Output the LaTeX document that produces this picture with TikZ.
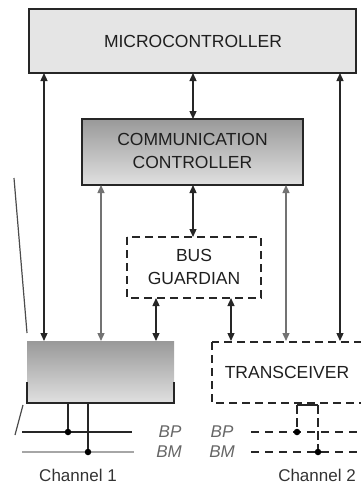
\documentclass[tikz,border=0pt]{standalone}
\usepackage{fontspec}
\setmainfont{Liberation Sans}
\usetikzlibrary{arrows.meta}
\begin{document}
\begin{tikzpicture}[x=1pt,y=-1pt,
  lbl/.style={font=\fontsize{17.5}{23}\selectfont, text=black!88, align=center, inner sep=0pt},
  buslbl/.style={font=\fontsize{17}{20}\selectfont\itshape, text=black!60, inner sep=0pt},
  chlbl/.style={font=\fontsize{17}{20}\selectfont, text=black!80, inner sep=0pt},
  solidbox/.style={draw=black!85, line width=1.6pt},
  dashbox/.style={draw=black!85, line width=1.6pt, dash pattern=on 8pt off 5pt},
  link/.style={draw=black!85, line width=1.3pt, {Triangle[length=8pt,width=7pt]}-{Triangle[length=8pt,width=7pt]}},
  greylink/.style={link, draw=black!55},
  bus/.style={line width=1.4pt},
  dot/.style={circle, fill=black, inner sep=0pt, minimum size=6.5pt}]
\useasboundingbox (0,0) rectangle (360,485);

% main blocks
\path[solidbox, fill=black!10] (29,9) rectangle (356,73);
\node[lbl] (mc) at (193,41) {MICROCONTROLLER};

\path[solidbox, top color=black!40, bottom color=black!12] (82,119) rectangle (303,185);
\node[lbl] (cc) at (192.5,151) {COMMUNICATION\\CONTROLLER};

\path[dashbox] (127,237) rectangle (261,298);
\node[lbl] (bg) at (194,267) {BUS\\GUARDIAN};

% channel 1 interface block
\fill[top color=black!40, bottom color=black!12] (27,341) rectangle (174,403);
\draw[black!85, line width=1.6pt] (27,382) -- (27,403) -- (174,403) -- (174,382);

% transceiver
\path[dashbox] (212,342) -- (212,403) -- (362,403);
\draw[dashbox] (362,342) -- (212,342);
\node[lbl] (tr) at (287,372) {TRANSCEIVER};

% connectors
\coordinate (a1) at (44,73);   \coordinate (a2) at (44,341);
\coordinate (b1) at (193,73);  \coordinate (b2) at (193,119);
\coordinate (c1) at (101,185); \coordinate (c2) at (101,341);
\coordinate (d1) at (193,185); \coordinate (d2) at (193,237);
\coordinate (e1) at (286,185); \coordinate (e2) at (286,341);
\coordinate (f1) at (156,298); \coordinate (f2) at (156,341);
\coordinate (g1) at (231,298); \coordinate (g2) at (231,341);
\coordinate (h1) at (340,73);  \coordinate (h2) at (340,341);
\draw[link] (a1) -- (a2);
\draw[link] (b1) -- (b2);
\draw[greylink] (c1) -- (c2);
\draw[link] (d1) -- (d2);
\draw[greylink] (e1) -- (e2);
\draw[link] (f1) -- (f2);
\draw[link] (g1) -- (g2);
\draw[link] (h1) -- (h2);

% channel 1 bus
\coordinate (bp1l) at (22,432);  \coordinate (bp1r) at (132,432);
\coordinate (bm1l) at (22,452);  \coordinate (bm1r) at (134,452);
\draw[bus, black!85] (bp1l) -- (bp1r);
\draw[bus, black!35] (bm1l) -- (bm1r);
\node[dot] (p1) at (68,432) {};
\node[dot] (m1) at (88,452) {};
\draw[bus, black!85] (68,403) -- (p1);
\draw[bus, black!85] (88,403) -- (m1);
\node[buslbl] (bpl1) at (170,432) {BP};
\node[buslbl] (bml1) at (169,452) {BM};
\node[chlbl] (ch1) at (78,475) {Channel 1};

% channel 2 bus
\node[buslbl] (bpl2) at (222,432) {BP};
\node[buslbl] (bml2) at (222,452) {BM};
\draw[bus, black!85, dash pattern=on 8pt off 6pt] (251,432) -- (362,432);
\draw[bus, black!85, dash pattern=on 8pt off 6pt] (251,452) -- (362,452);
\node[dot] (p2) at (297,432) {};
\node[dot] (m2) at (318,452) {};
\draw[bus, black!85, dash pattern=on 9pt off 4pt] (297,405) -- (p2);
\draw[bus, black!85, dash pattern=on 9pt off 4pt] (318,405) -- (m2);
\draw[bus, black!85] (297,405) -- (318,405);
\node[chlbl] (ch2) at (317,475) {Channel 2};

% edge fragments on the left
\draw[black!70, line width=1.2pt] (14,178) -- (27,333);
\draw[black!70, line width=1.2pt] (23,405) -- (15,435);
\end{tikzpicture}
\end{document}
